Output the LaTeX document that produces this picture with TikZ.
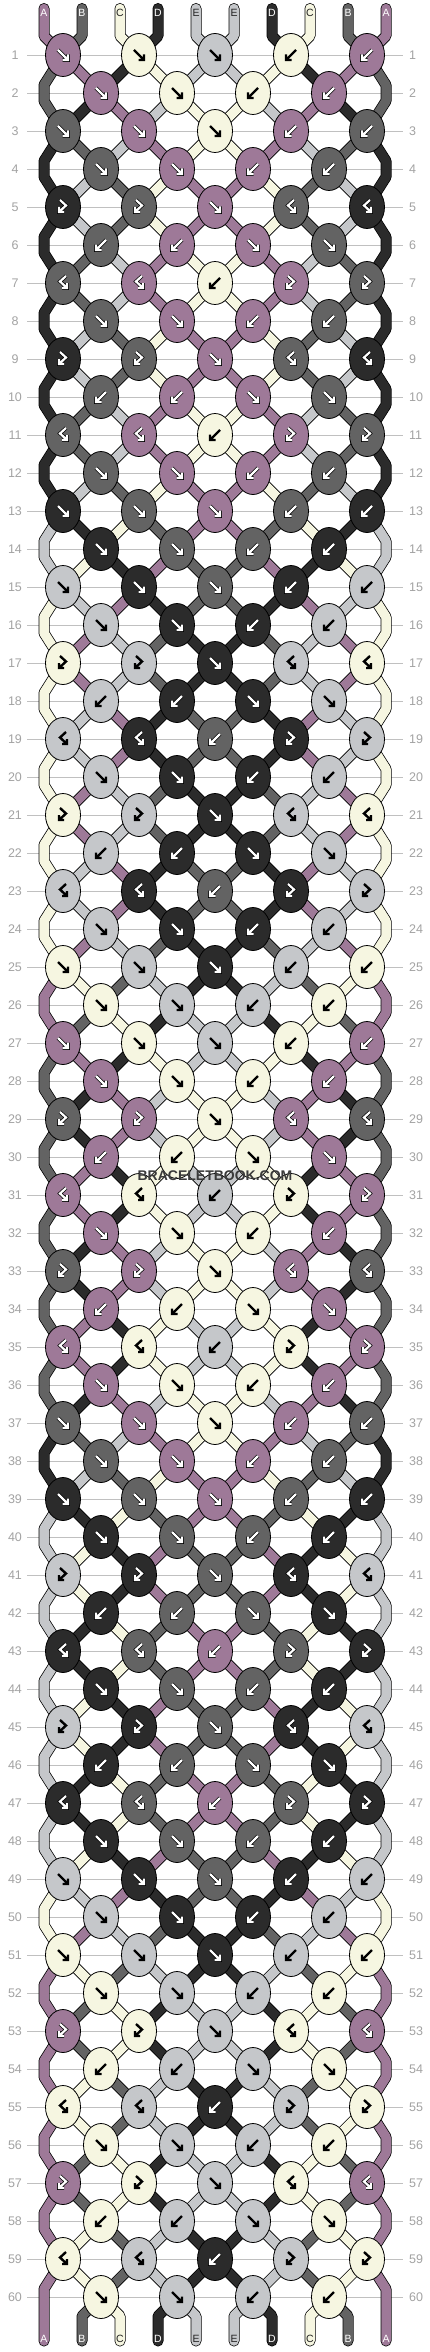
\documentclass[tikz,border=0pt]{standalone}
\usepackage{fontspec}
\setmainfont{Liberation Sans}
\usetikzlibrary{shapes.geometric}
\definecolor{cA}{HTML}{9E7998}
\definecolor{cB}{HTML}{636363}
\definecolor{cC}{HTML}{F6F6E1}
\definecolor{cD}{HTML}{2B2B2B}
\definecolor{cE}{HTML}{C5C7CA}
\definecolor{gridc}{HTML}{C0C0C0}
\definecolor{numc}{HTML}{A3A3A3}
\definecolor{wmark}{HTML}{3A3A3A}
\definecolor{lA}{HTML}{FFFFFF}
\definecolor{lB}{HTML}{FFFFFF}
\definecolor{lC}{HTML}{222222}
\definecolor{lD}{HTML}{FFFFFF}
\definecolor{lE}{HTML}{222222}
\newcommand\setst[2]{\expandafter\xdef\csname bst#1\endcsname{#2}}
\newcommand\getst[1]{\csname bst#1\endcsname}
\def\typesP{1,1,1,2,2}
\def\typesQ{3,3,1,4,4}
\def\typesR{4,4,2,3,3}
\def\typesS{1,1,2,2}
\def\typesT{2,2,1,1}
\def\startcols{A,B,C,D,E,E,D,C,B,A}
\def\rowcodes{P,S,P,S,Q,T,R,S,Q,T,R,S,P,S,P,S,Q,T,R,S,Q,T,R,S,P,S,P,S,Q,T,R,S,Q,T,R,S,P,S,P,S,Q,T,R,S,Q,T,R,S,P,S,P,S,Q,T,R,S,Q,T,R,S}
\tikzset{
  strand/.style={draw=black, line width=0.75pt, double=c#1, double distance=9.5pt, line join=round, line cap=round},
  knot/.style={ellipse, draw=black, line width=0.8pt, minimum width=35pt, minimum height=43pt, inner sep=0pt, fill=c#1},
  darkar/.style={draw=black, line width=0.7pt, double=white, double distance=2.2pt, line cap=butt, line join=miter},
  lightar/.style={draw=black, line width=2.4pt, line cap=butt, line join=miter},
  gridline/.style={draw=gridc, line width=0.9pt},
  rownum/.style={text=numc, font=\fontsize{12.5}{13}\selectfont, inner sep=0pt},
  strlabel/.style={text=l#1, font=\fontsize{10.5}{11}\selectfont, inner sep=0pt},
}
\newcommand\setarrowstyle[1]{%
  \if#1C\tikzset{arsty/.style={lightar}}\else
  \if#1E\tikzset{arsty/.style={lightar}}\else
  \tikzset{arsty/.style={darkar}}\fi\fi}
\newcommand\drawglyph[3]{%
  \begin{scope}[shift={(#2,#3)}]
  \ifcase#1\relax\or
    \draw[arsty] (-5,-5) -- (4.5,4.5) (-0.5,5) -- (5,5) -- (5,-0.5);
  \or
    \draw[arsty] (5,-5) -- (-4.5,4.5) (0.5,5) -- (-5,5) -- (-5,-0.5);
  \or
    \draw[arsty] (-3,-7) -- (3,-1.5) -- (-3.6,4.6) (-4,0) -- (-4,5) -- (1,5);
  \or
    \draw[arsty] (3,-7) -- (-3,-1.5) -- (3.6,4.6) (4,0) -- (4,5) -- (-1,5);
  \fi
  \end{scope}}
\begin{document}
\begin{tikzpicture}[x=1pt,y=-1pt]
\fill[white] (0,0) rectangle (430,2352);
\useasboundingbox (0,0) rectangle (430,2352);
\foreach \cc [count=\p from 0] in \startcols {\setst{\p}{\cc}}
\foreach \p in {0,...,9} {
  \coordinate (s\p) at (44+38*\p,8.5);
  \coordinate (e\p) at (44+38*\p,2341);
}
% grid and row numbers
\foreach \rr in {1,...,60} {
  \pgfmathsetmacro\yy{55+38*(\rr-1)}
  \draw[gridline] (27,\yy) -- (403,\yy);
  \node[rownum] (nl\rr) at (15,\yy) {\rr};
  \node[rownum, anchor=west] (nr\rr) at (409,\yy) {\rr};
}
% pass 1: strands
\foreach \code [count=\rr] in \rowcodes {
  \pgfmathsetmacro\yy{55+38*(\rr-1)}
  \pgfmathtruncatemacro\rq{\rr-1}
  \pgfmathtruncatemacro\rp{\rr-2}
  \edef\tl{\csname types\code\endcsname}
  \foreach \kt [count=\jj from 0] in \tl {
    \ifodd\rr\relax
      \pgfmathtruncatemacro\li{2*\jj}
      \pgfmathsetmacro\xx{63+76*\jj}
    \else
      \pgfmathtruncatemacro\li{2*\jj+1}
      \pgfmathsetmacro\xx{101+76*\jj}
    \fi
    \pgfmathtruncatemacro\ri{\li+1}
    \edef\colL{\getst{\li}}
    \edef\colR{\getst{\ri}}
    \ifodd\kt\relax \let\kc\colL \else \let\kc\colR \fi
    \expandafter\xdef\csname kcol\rr-\jj\endcsname{\kc}
    \coordinate (c\rr-\jj) at (\xx,\yy);
    \ifnum\rr=1
      \draw[strand=\colL] (s\li) -- ++(0,27.5) -- (c\rr-\jj);
      \draw[strand=\colR] (s\ri) -- ++(0,27.5) -- (c\rr-\jj);
    \else
      \ifodd\rr\relax
        \ifnum\jj=0
          \draw[strand=\colL] (c\rp-0) -- (44,\yy-46) -- (44,\yy-30) -- (c\rr-\jj);
        \else
          \pgfmathtruncatemacro\jp{\jj-1}
          \draw[strand=\colL] (c\rq-\jp) -- (c\rr-\jj);
        \fi
        \ifnum\jj=4
          \draw[strand=\colR] (c\rp-4) -- (386,\yy-46) -- (386,\yy-30) -- (c\rr-\jj);
        \else
          \draw[strand=\colR] (c\rq-\jj) -- (c\rr-\jj);
        \fi
      \else
        \pgfmathtruncatemacro\jn{\jj+1}
        \draw[strand=\colL] (c\rq-\jj) -- (c\rr-\jj);
        \draw[strand=\colR] (c\rq-\jn) -- (c\rr-\jj);
      \fi
    \fi
    \ifnum\kt<3 \setst{\li}{\colR}\setst{\ri}{\colL}\fi
  }
}
\foreach \p in {1,...,8} {
  \pgfmathtruncatemacro\jb{(\p-1)/2}
  \edef\cc{\getst{\p}}
  \draw[strand=\cc] (c60-\jb) -- (44+38*\p,2316) -- (e\p);
}
\edef\cc{\getst{0}}
\draw[strand=\cc] (c59-0) -- (44,2289) -- (e0);
\edef\cc{\getst{9}}
\draw[strand=\cc] (c59-4) -- (386,2289) -- (e9);
% pass 2: knots
\foreach \code [count=\rr] in \rowcodes {
  \edef\tl{\csname types\code\endcsname}
  \foreach \kt [count=\jj from 0] in \tl {
    \edef\kc{\csname kcol\rr-\jj\endcsname}
    \node[knot=\kc] (k\rr-\jj) at (c\rr-\jj) {};
    \setarrowstyle{\kc}
    \begin{scope}[shift={(k\rr-\jj.center)}]
    \ifcase\kt\relax\or
      \draw[arsty] (-5,-5) -- (4.5,4.5) (-0.5,5) -- (5,5) -- (5,-0.5);
    \or
      \draw[arsty] (5,-5) -- (-4.5,4.5) (0.5,5) -- (-5,5) -- (-5,-0.5);
    \or
      \draw[arsty] (-3,-7) -- (3,-1.5) -- (-3.6,4.6) (-4,0) -- (-4,5) -- (1,5);
    \or
      \draw[arsty] (3,-7) -- (-3,-1.5) -- (3.6,4.6) (4,0) -- (4,5) -- (-1,5);
    \fi
    \end{scope}
  }
}
\foreach \cc [count=\p from 0] in \startcols {
  \node[strlabel=\cc] (tl\p) at (44+38*\p,13) {\cc};
  \node[strlabel=\cc] (bl\p) at (44+38*\p,2339) {\cc};
}
\node[text=wmark, font=\bfseries\fontsize{14}{14}\selectfont, inner sep=0pt] (wm) at (215,1176) {BRACELETBOOK.COM};
\end{tikzpicture}
\end{document}
